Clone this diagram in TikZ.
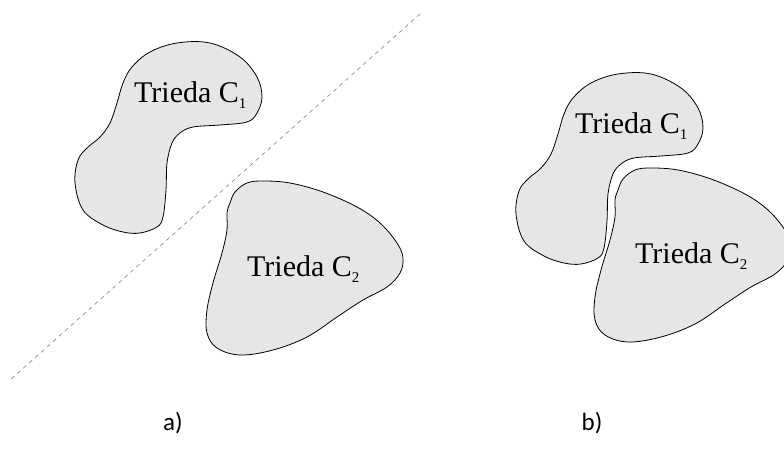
\documentclass[tikz,border=0pt]{standalone}
\usepackage{fontspec}
\setmainfont{Liberation Serif}
\newfontfamily\labelfont{Carlito}
\definecolor{blobgray}{RGB}{230,230,230}
\newcommand\triedaname[1]{Trieda C\raisebox{-6pt}{\fontsize{15}{15}\selectfont #1}}
\begin{document}
\begin{tikzpicture}[x=1pt,y=-1pt,
  blob/.style={draw=black, line width=0.8pt, fill=blobgray},
  blobname/.style={anchor=base west, inner sep=0pt, font=\fontsize{30}{36}\selectfont},
  panelcaption/.style={anchor=base, inner sep=0pt, font=\labelfont\fontsize{25}{30}\selectfont},
  splitline/.style={draw=gray, line width=0.6pt, dash pattern=on 4pt off 4pt}]
\useasboundingbox (0,0) rectangle (784,460);
\clip (0,0) rectangle (784,460);

% panel a): the two sets separated by a line
\draw[blob] plot[smooth cycle, tension=0.6] coordinates {
  (132,67) (150,52) (177,43) (210,43) (240,57) (257,77) (262,97) (257,113)
  (247,122) (220,125) (193,127) (180,133) (172,143) (167,163) (166,190)
  (163,217) (157,227) (140,233) (123,232) (103,225) (83,210) (75,183)
  (78,160) (87,148) (100,137) (110,123) (117,103) (123,83)};
\node[blobname] (a1) at (134,102) {\triedaname{1}};

\draw[blob] plot[smooth cycle, tension=0.6] coordinates {
  (235,192) (247,183) (263,181) (290,183) (323,192) (357,207) (380,223)
  (397,243) (403,258) (400,273) (387,287) (363,300) (337,317) (307,337)
  (273,350) (240,355) (217,348) (207,333) (207,310) (213,283) (222,253)
  (227,230) (227,213) (230,203)};
\node[blobname] (a2) at (247,276) {\triedaname{2}};

\coordinate (lineTop) at (420,14);
\coordinate (lineBottom) at (10,380);
\draw[splitline] (lineTop) -- (lineBottom);

% panel b): the same two sets pushed against each other
\begin{scope}[shift={(441,31)}]
\draw[blob] plot[smooth cycle, tension=0.6] coordinates {
  (132,67) (150,52) (177,43) (210,43) (240,57) (257,77) (262,97) (257,113)
  (247,122) (220,125) (193,127) (180,133) (172,143) (167,163) (166,190)
  (163,217) (157,227) (140,233) (123,232) (103,225) (83,210) (75,183)
  (78,160) (87,148) (100,137) (110,123) (117,103) (123,83)};
\node[blobname] (b1) at (134,102) {\triedaname{1}};
\end{scope}

\begin{scope}[shift={(388,-13)}]
\draw[blob] plot[smooth cycle, tension=0.6] coordinates {
  (235,192) (247,183) (263,181) (290,183) (323,192) (357,207) (380,223)
  (397,243) (403,258) (400,273) (387,287) (363,300) (337,317) (307,337)
  (273,350) (240,355) (217,348) (207,333) (207,310) (213,283) (222,253)
  (227,230) (227,213) (230,203)};
\node[blobname] (b2) at (247,276) {\triedaname{2}};
\end{scope}

\node[panelcaption] (capA) at (173,430) {a)};
\node[panelcaption] (capB) at (592,430) {b)};
\end{tikzpicture}
\end{document}
